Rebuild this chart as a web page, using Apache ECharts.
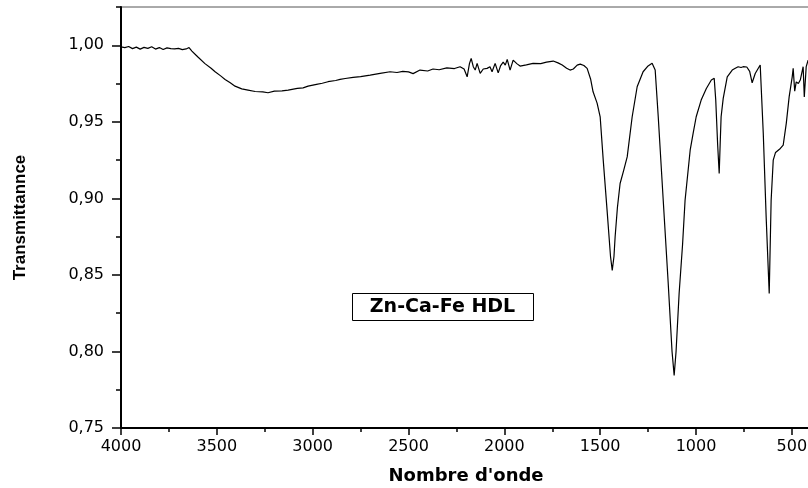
<!DOCTYPE html>
<html>
  <head>
    <meta charset="utf-8" />
    <title>Zn-Ca-Fe HDL IR</title>
    <script src="https://cdn.jsdelivr.net/npm/echarts@6/dist/echarts.min.js"></script>
  </head>
  <body style="margin:0;">
    <div id="container" style="width: 808px;height: 488px;"></div>

    <script type="text/javascript">
    // spectre IR
    var wavenumbers = [
      4000, 3980, 3960, 3940, 3920, 3900, 3880, 3860, 3840, 3820, 3800, 3780, 3760, 3740, 3720, 3700,
      3680, 3660, 3645, 3630, 3600, 3562, 3530, 3509, 3480, 3457, 3430, 3405, 3370, 3337, 3300, 3260,
      3233, 3200, 3160, 3128, 3080, 3050, 3024, 2980, 2950, 2920, 2880, 2857, 2830, 2789, 2750, 2700,
      2648, 2596, 2560, 2530, 2500, 2476, 2440, 2400, 2372, 2340, 2300, 2260, 2231, 2210, 2194, 2182,
      2173, 2162, 2152, 2142, 2126, 2110, 2090, 2075, 2064, 2048, 2032, 2020, 2006, 1995, 1985, 1970,
      1954, 1935, 1918, 1885, 1850, 1810, 1780, 1745, 1720, 1698, 1675, 1657, 1640, 1620, 1604, 1585,
      1568, 1550, 1537, 1516, 1500, 1484, 1464, 1446, 1437, 1428, 1422, 1410, 1396, 1378, 1359, 1333,
      1307, 1276, 1250, 1229, 1213, 1197, 1171, 1145, 1125, 1114, 1104, 1088, 1070, 1057, 1030, 1015,
      1005, 999, 973, 946, 920, 905, 897, 887, 879, 874, 869, 858, 837, 811, 795, 780,
      765, 754, 735, 720, 707, 691, 675, 665, 657, 649, 634, 618, 608, 597, 585, 576,
      560, 545, 529, 514, 498, 493, 485, 477, 466, 456, 441, 435, 425, 415
    ];
    var transmittance = [
      0.9990, 0.9985, 0.9992, 0.9978, 0.9988, 0.9975, 0.9986, 0.9980, 0.9990, 0.9975, 0.9985, 0.9972, 0.9983, 0.9978, 0.9977, 0.9980,
      0.9972, 0.9976, 0.9985, 0.9962, 0.9925, 0.9880, 0.9850, 0.9827, 0.9800, 0.9777, 0.9755, 0.9733, 0.9715, 0.9707, 0.9698, 0.9695,
      0.9690, 0.9700, 0.9702, 0.9707, 0.9718, 0.9722, 0.9733, 0.9745, 0.9752, 0.9762, 0.9770, 0.9777, 0.9783, 0.9790, 0.9795, 0.9805,
      0.9816, 0.9827, 0.9822, 0.9830, 0.9826, 0.9815, 0.9838, 0.9832, 0.9845, 0.9840, 0.9852, 0.9848, 0.9860, 0.9845, 0.9794, 0.9880,
      0.9914, 0.9860, 0.9838, 0.9882, 0.9816, 0.9845, 0.9849, 0.9860, 0.9827, 0.9882, 0.9820, 0.9865, 0.9890, 0.9870, 0.9908, 0.9838,
      0.9903, 0.9880, 0.9864, 0.9872, 0.9882, 0.9880, 0.9890, 0.9897, 0.9885, 0.9871, 0.9850, 0.9838, 0.9845, 0.9870, 0.9877, 0.9868,
      0.9849, 0.9780, 0.9696, 0.9622, 0.9533, 0.9250, 0.8923, 0.8620, 0.8530, 0.8620, 0.8748, 0.8940, 0.9097, 0.9180, 0.9271, 0.9533,
      0.9729, 0.9827, 0.9865, 0.9882, 0.9838, 0.9533, 0.8988, 0.8446, 0.8000, 0.7844, 0.8000, 0.8380, 0.8700, 0.8988, 0.9319, 0.9424,
      0.9435, 0.9533, 0.9642, 0.9718, 0.9773, 0.9784, 0.9642, 0.9350, 0.9163, 0.9350, 0.9533, 0.9653, 0.9794, 0.9838, 0.9850, 0.9860,
      0.9855, 0.9860, 0.9858, 0.9830, 0.9755, 0.9816, 0.9850, 0.9871, 0.9871, 0.9424, 0.8879, 0.8378, 0.8988, 0.9250, 0.9300, 0.9304,
      0.9326, 0.9348, 0.9490, 0.9663, 0.9794, 0.9849, 0.9700, 0.9761, 0.9750, 0.9773, 0.9860, 0.9663, 0.9860, 0.9903
    ];
    var xMajorTicks = [500, 1000, 1500, 2000, 2500, 3000, 3500, 4000];
    var xMinorTicks = [750, 1250, 1750, 2250, 2750, 3250, 3750];
    var yMajorTicks = [0.75, 0.80, 0.85, 0.90, 0.95, 1.00];
    var yMinorTicks = [0.775, 0.825, 0.875, 0.925, 0.975, 1.025];
    var sampleName = 'Zn-Ca-Fe HDL';

    var points = wavenumbers.map(function (w, i) { return [w, transmittance[i]]; });

    var myChart = echarts.init(document.getElementById('container'));
    var axisFont = 'DejaVu Sans';
    var option = {
      animation: false,
      backgroundColor: '#fff',
      grid: {
        left: 121, width: 690, top: 7, height: 421,
        outerBoundsMode: 'none', containLabel: false,
        show: true, borderColor: '#555', borderWidth: 1
      },
      xAxis: [
        {
          type: 'value', inverse: true, min: 400, max: 4000,
          position: 'bottom',
          name: "Nombre d'onde", nameLocation: 'middle', nameGap: 39,
          nameTextStyle: { fontFamily: axisFont, fontWeight: 'bold', fontSize: 18, color: '#000' },
          axisLine: { lineStyle: { color: '#000', width: 2 } },
          axisTick: { customValues: xMajorTicks, length: 7, lineStyle: { color: '#000', width: 1.5 } },
          axisLabel: {
            customValues: xMajorTicks, margin: 11, fontFamily: axisFont, fontSize: 16, color: '#000',
            formatter: function (v) { return String(v); }
          },
          splitLine: { show: false }
        },
        {
          type: 'value', inverse: true, min: 400, max: 4000,
          position: 'bottom', offset: 0,
          axisLine: { show: false },
          axisTick: { customValues: xMinorTicks, length: 4, lineStyle: { color: '#000', width: 1.5 } },
          axisLabel: { show: false },
          splitLine: { show: false }
        }
      ],
      yAxis: [
        {
          type: 'value', min: 0.75, max: 1.025,
          position: 'left',
          name: 'Transmittannce', nameLocation: 'middle', nameGap: 92,
          nameTextStyle: { fontFamily: 'Liberation Sans', fontWeight: 'bold', fontSize: 17, color: '#000' },
          axisLine: { lineStyle: { color: '#000', width: 2 } },
          axisTick: { customValues: yMajorTicks, length: 9, lineStyle: { color: '#000', width: 1.5 } },
          axisLabel: {
            customValues: yMajorTicks, margin: 17, fontFamily: axisFont, fontSize: 16, color: '#000',
            formatter: function (v) { return v.toFixed(2).replace('.', ','); }
          },
          splitLine: { show: false }
        },
        {
          type: 'value', min: 0.75, max: 1.025,
          position: 'left', offset: 0,
          axisLine: { show: false },
          axisTick: { customValues: yMinorTicks, length: 5, lineStyle: { color: '#000', width: 1.5 } },
          axisLabel: { show: false },
          splitLine: { show: false }
        }
      ],
      graphic: [
        {
          type: 'group', left: 352, top: 293,
          children: [
            { type: 'rect', shape: { x: 0, y: 0, width: 181, height: 27 },
              style: { fill: '#fff', stroke: '#000', lineWidth: 1 } },
            { type: 'text', x: 90, y: 14,
              style: { text: sampleName, fill: '#000', font: 'bold 19px "DejaVu Sans"',
                       textAlign: 'center', textVerticalAlign: 'middle' } }
          ]
        }
      ],
      series: [
        {
          name: sampleName,
          type: 'line',
          xAxisIndex: 0, yAxisIndex: 0,
          data: points,
          showSymbol: false,
          lineStyle: { color: '#000', width: 1.2 },
          clip: true
        }
      ]
    };
    myChart.setOption(option);
    window.addEventListener('resize', myChart.resize);
    </script>
  </body>
</html>
